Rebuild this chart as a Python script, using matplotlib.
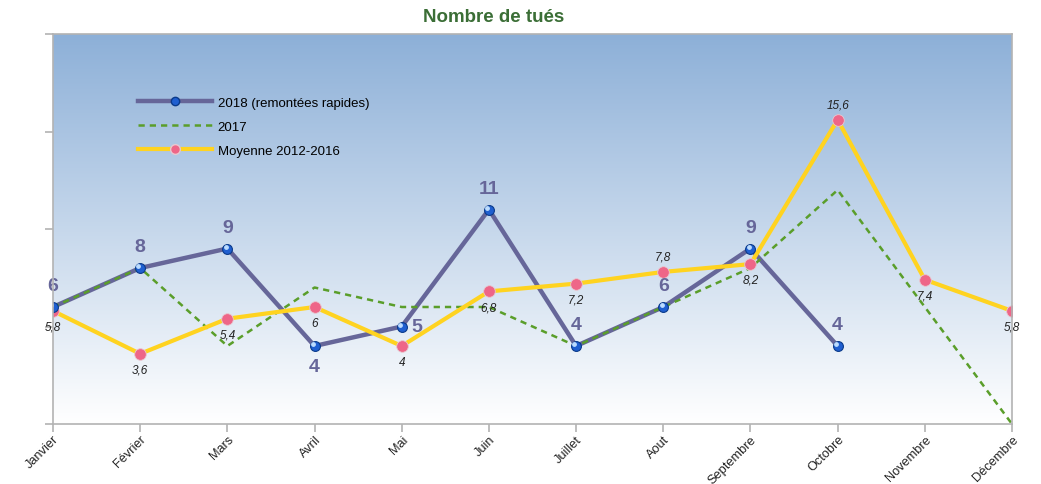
import numpy as np
import matplotlib
matplotlib.use("Agg")
import matplotlib.pyplot as plt
from matplotlib.lines import Line2D

plt.rcParams['font.family'] = ['Liberation Sans', 'DejaVu Sans']

months = ['Janvier', 'Février', 'Mars', 'Avril', 'Mai', 'Juin', 'Juillet',
          'Aout', 'Septembre', 'Octobre', 'Novembre', 'Décembre']
tues_2018 = [6, 8, 9, 4, 5, 11, 4, 6, 9, 4]
tues_2017 = [6, 8, 4, 7, 6, 6, 4, 6, 8, 12, 6, 0]
moyenne = [5.8, 3.6, 5.4, 6, 4, 6.8, 7.2, 7.8, 8.2, 15.6, 7.4, 5.8]

# label placement: 'a' above, 'b' below, 'r' right
pos_2018 = ['a', 'a', 'a', 'b', 'r', 'a', 'a', 'a', 'a', 'a']
pos_moy = ['b', 'b', 'b', 'b', 'b', 'b', 'b', 'a', 'b', 'a', 'b', 'b']

purple = '#666699'
green = '#5a9e2a'
yellow = '#ffd320'
pink = '#ee6688'
grey = '#b3b3b3'

fig = plt.figure(figsize=(10.41, 4.85), dpi=100)
ax = fig.add_axes([53 / 1041, 1 - 425 / 485, 959 / 1041, 390 / 485])

# vertical gradient background
grad = np.linspace(0, 1, 256).reshape(-1, 1)
top = np.array([0x8d, 0xb0, 0xd8]) / 255
bottom = np.array([1.0, 1.0, 1.0])
img = bottom + (top - bottom) * grad[..., None]
ax.imshow(img, extent=[0, 1, 0, 1], transform=ax.transAxes, origin='lower',
          aspect='auto', zorder=0)

x = np.arange(len(months))
x18 = np.arange(len(tues_2018))

ax.plot(x18, tues_2018, color=purple, lw=3.2, zorder=3)
ax.plot(x, tues_2017, color=green, lw=1.8, ls=(0, (2.5, 2)), zorder=4)
ax.plot(x, moyenne, color=yellow, lw=3, zorder=5)
ax.scatter(x, moyenne, s=70, color=pink, edgecolor='#e8c8d0', lw=0.6, zorder=6)
ax.scatter(x18, tues_2018, s=50, color='#1f5fd0', edgecolor='#0a3a8a', lw=0.8, zorder=7)
# small highlight for the sphere look
ax.scatter(x18 - 0.02, np.array(tues_2018) + 0.1, s=6, color='#bcdcff', zorder=8)

for xi, v, p in zip(x18, tues_2018, pos_2018):
    if p == 'a':
        ax.annotate(str(v), (xi, v), xytext=(0, 9), textcoords='offset points',
                    ha='center', va='bottom', fontsize=14, fontweight='bold', color=purple, zorder=9)
    elif p == 'b':
        ax.annotate(str(v), (xi, v), xytext=(0, -9), textcoords='offset points',
                    ha='center', va='top', fontsize=14, fontweight='bold', color=purple, zorder=9)
    else:
        ax.annotate(str(v), (xi, v), xytext=(7, 0), textcoords='offset points',
                    ha='left', va='center', fontsize=14, fontweight='bold', color=purple, zorder=9)

for xi, v, p in zip(x, moyenne, pos_moy):
    txt = ('%g' % v).replace('.', ',')
    dy = 7 if p == 'a' else -7
    ax.annotate(txt, (xi, v), xytext=(0, dy), textcoords='offset points',
                ha='center', va='bottom' if p == 'a' else 'top',
                fontsize=8.5, fontstyle='italic', color='#222222', zorder=9)

ax.set_xlim(0, len(months) - 1)
ax.set_ylim(0, 20)
ax.set_yticks([0, 5, 10, 15, 20])
ax.set_yticklabels([])
ax.set_xticks(x)
ax.set_xticklabels(months, rotation=45, ha='right', va='top', rotation_mode='anchor',
                   fontsize=9.2, color='#222222')
ax.tick_params(axis='both', color=grey, length=6, width=1.2, direction='out')
ax.tick_params(axis='x', pad=0.5)
for s in ax.spines.values():
    s.set_color(grey)
    s.set_linewidth(1.2)
    s.set_zorder(10)

fig.text(494 / 1041, 1 - 18 / 485, 'Nombre de tués', ha='center', va='center',
         fontsize=13.5, fontweight='bold', color='#3b6e36')

handles = [
    Line2D([], [], color=purple, lw=3.2, marker='o', markersize=6,
           markerfacecolor='#1f5fd0', markeredgecolor='#0a3a8a'),
    Line2D([], [], color=green, lw=1.8, ls=(0, (2.5, 2))),
    Line2D([], [], color=yellow, lw=3, marker='o', markersize=7,
           markerfacecolor=pink, markeredgecolor='#e8c8d0'),
]
labels = ['2018 (remontées rapides)', '2017', 'Moyenne 2012-2016']
ax.legend(handles, labels, loc='upper left', bbox_to_anchor=(0.076, 0.87),
          frameon=False, fontsize=9.5, handlelength=5.6, handletextpad=0.45,
          labelspacing=0.88)

fig.savefig('out.png', dpi=100)
